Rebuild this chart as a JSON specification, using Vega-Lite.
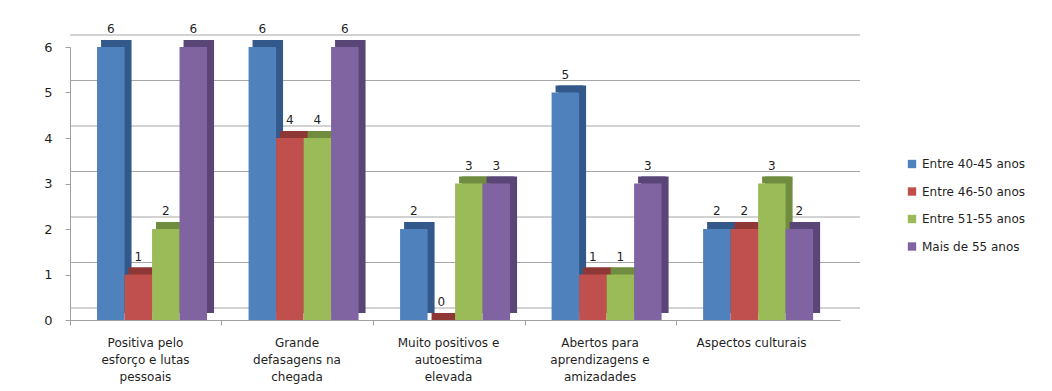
{
  "$schema": "https://vega.github.io/schema/vega-lite/v6.json",
  "autosize": "none",
  "width": 770,
  "height": 273,
  "padding": {"left": 70, "top": 47, "right": 212, "bottom": 71},
  "background": "white",
  "config": {"font": "DejaVu Sans", "view": {"stroke": null}},
  "datasets": {
    "bars": [
      {"categoria": "Positiva pelo esforço e lutas pessoais", "faixa": "Entre 40-45 anos", "valor": 6},
      {"categoria": "Positiva pelo esforço e lutas pessoais", "faixa": "Entre 46-50 anos", "valor": 1},
      {"categoria": "Positiva pelo esforço e lutas pessoais", "faixa": "Entre 51-55 anos", "valor": 2},
      {"categoria": "Positiva pelo esforço e lutas pessoais", "faixa": "Mais de 55 anos", "valor": 6},
      {"categoria": "Grande defasagens na chegada", "faixa": "Entre 40-45 anos", "valor": 6},
      {"categoria": "Grande defasagens na chegada", "faixa": "Entre 46-50 anos", "valor": 4},
      {"categoria": "Grande defasagens na chegada", "faixa": "Entre 51-55 anos", "valor": 4},
      {"categoria": "Grande defasagens na chegada", "faixa": "Mais de 55 anos", "valor": 6},
      {"categoria": "Muito positivos e autoestima elevada", "faixa": "Entre 40-45 anos", "valor": 2},
      {"categoria": "Muito positivos e autoestima elevada", "faixa": "Entre 46-50 anos", "valor": 0},
      {"categoria": "Muito positivos e autoestima elevada", "faixa": "Entre 51-55 anos", "valor": 3},
      {"categoria": "Muito positivos e autoestima elevada", "faixa": "Mais de 55 anos", "valor": 3},
      {"categoria": "Abertos para aprendizagens e amizadades", "faixa": "Entre 40-45 anos", "valor": 5},
      {"categoria": "Abertos para aprendizagens e amizadades", "faixa": "Entre 46-50 anos", "valor": 1},
      {"categoria": "Abertos para aprendizagens e amizadades", "faixa": "Entre 51-55 anos", "valor": 1},
      {"categoria": "Abertos para aprendizagens e amizadades", "faixa": "Mais de 55 anos", "valor": 3},
      {"categoria": "Aspectos culturais", "faixa": "Entre 40-45 anos", "valor": 2},
      {"categoria": "Aspectos culturais", "faixa": "Entre 46-50 anos", "valor": 2},
      {"categoria": "Aspectos culturais", "faixa": "Entre 51-55 anos", "valor": 3},
      {"categoria": "Aspectos culturais", "faixa": "Mais de 55 anos", "valor": 2}
    ],
    "grid": [{"v": 0}, {"v": 1}, {"v": 2}, {"v": 3}, {"v": 4}, {"v": 5}, {"v": 6}]
  },
  "resolve": {"scale": {"xOffset": "independent"}},
  "layer": [
    {
      "data": {"name": "grid"},
      "mark": {"type": "rule", "color": "#a6a6a6", "strokeWidth": 1, "xOffset": 20, "x2Offset": 12, "yOffset": -12},
      "encoding": {
        "y": {"field": "v", "type": "quantitative", "scale": {"domain": [0, 6]}, "title": null,
          "axis": {"grid": false, "values": [0, 1, 2, 3, 4, 5, 6], "domainColor": "#a0a0a0", "tickColor": "#a0a0a0", "tickSize": 5,
            "labelFont": "DejaVu Sans", "labelFontSize": 13, "labelColor": "#1f1f1f", "labelPadding": 13}}
      }
    },
    {
      "data": {"name": "bars"},
      "mark": {"type": "bar", "yOffset": -7, "y2Offset": -3},
      "encoding": {
        "x": {"field": "categoria", "type": "nominal", "sort": null, "title": null,
          "scale": {"paddingInner": 0.275, "paddingOuter": 0.1785},
          "axis": {"labelAngle": 0, "tickOffset": -82, "labelOffset": 75, "domainColor": "#a0a0a0", "tickColor": "#a0a0a0", "tickSize": 5,
            "labelFont": "DejaVu Sans", "labelFontSize": 12, "labelColor": "#1f1f1f", "labelPadding": 12, "labelBaseline": "top", "labelLineHeight": 17, "labelLimit": 200,
            "labelExpr": "datum.value == 'Positiva pelo esforço e lutas pessoais' ? ['Positiva pelo', 'esforço e lutas', 'pessoais'] : datum.value == 'Grande defasagens na chegada' ? ['Grande', 'defasagens na', 'chegada'] : datum.value == 'Muito positivos e autoestima elevada' ? ['Muito positivos e', 'autoestima', 'elevada'] : datum.value == 'Abertos para aprendizagens e amizadades' ? ['Abertos para', 'aprendizagens e', 'amizadades'] : datum.value"}},
        "xOffset": {"field": "faixa", "type": "nominal", "sort": null, "scale": {"range": [7, 117], "paddingInner": 0}},
        "y": {"field": "valor", "type": "quantitative"},
        "fill": {"field": "faixa", "type": "nominal", "sort": null, "legend": null,
          "scale": {"domain": ["Entre 40-45 anos", "Entre 46-50 anos", "Entre 51-55 anos", "Mais de 55 anos"], "range": ["#33598a", "#8f3735", "#6f8c3f", "#5a4577"]}}
      }
    },
    {
      "data": {"name": "bars"},
      "mark": {"type": "bar", "yOffset": -7, "y2Offset": 0},
      "encoding": {
        "x": {"field": "categoria", "type": "nominal", "sort": null},
        "xOffset": {"field": "faixa", "type": "nominal", "sort": null, "scale": {"range": [4, 114], "paddingInner": 0}},
        "y": {"field": "valor", "type": "quantitative"},
        "y2": {"field": "valor"},
        "stroke": {"field": "faixa", "type": "nominal", "sort": null,
          "scale": {"domain": ["Entre 40-45 anos", "Entre 46-50 anos", "Entre 51-55 anos", "Mais de 55 anos"], "range": ["#3f6ea6", "#a8433f", "#82a04a", "#6b5290"]},
          "legend": {"orient": "right", "offset": 40, "title": null}},
        "strokeWidth": {"value": 0},
        "fill": {"field": "faixa", "type": "nominal", "sort": null, "legend": null,
          "scale": {"domain": ["Entre 40-45 anos", "Entre 46-50 anos", "Entre 51-55 anos", "Mais de 55 anos"], "range": ["#3f6ea6", "#a8433f", "#82a04a", "#6b5290"]}}
      }
    },
    {
      "data": {"name": "bars"},
      "mark": {"type": "bar"},
      "encoding": {
        "x": {"field": "categoria", "type": "nominal", "sort": null},
        "xOffset": {"field": "faixa", "type": "nominal", "sort": null, "scale": {"range": [0, 110], "paddingInner": 0}},
        "y": {"field": "valor", "type": "quantitative"},
        "color": {"field": "faixa", "type": "nominal", "sort": null, "title": null,
          "scale": {"domain": ["Entre 40-45 anos", "Entre 46-50 anos", "Entre 51-55 anos", "Mais de 55 anos"], "range": ["#4f81bd", "#c0504d", "#9bbb59", "#8064a2"]},
          "legend": {"orient": "none", "legendX": 836, "legendY": 111, "symbolType": "square", "symbolSize": 70,
            "labelFont": "DejaVu Sans", "labelFontSize": 12, "labelColor": "#1f1f1f", "rowPadding": 15.5, "labelOffset": 4}}
      }
    },
    {
      "data": {"name": "bars"},
      "mark": {"type": "text", "baseline": "bottom", "dy": -11, "dx": 0, "fontSize": 12, "font": "DejaVu Sans", "color": "#1f1f1f"},
      "encoding": {
        "x": {"field": "categoria", "type": "nominal", "sort": null},
        "xOffset": {"field": "faixa", "type": "nominal", "sort": null, "scale": {"range": [0, 110], "paddingInner": 0}},
        "y": {"field": "valor", "type": "quantitative"},
        "text": {"field": "valor", "type": "quantitative"}
      }
    }
  ]
}
